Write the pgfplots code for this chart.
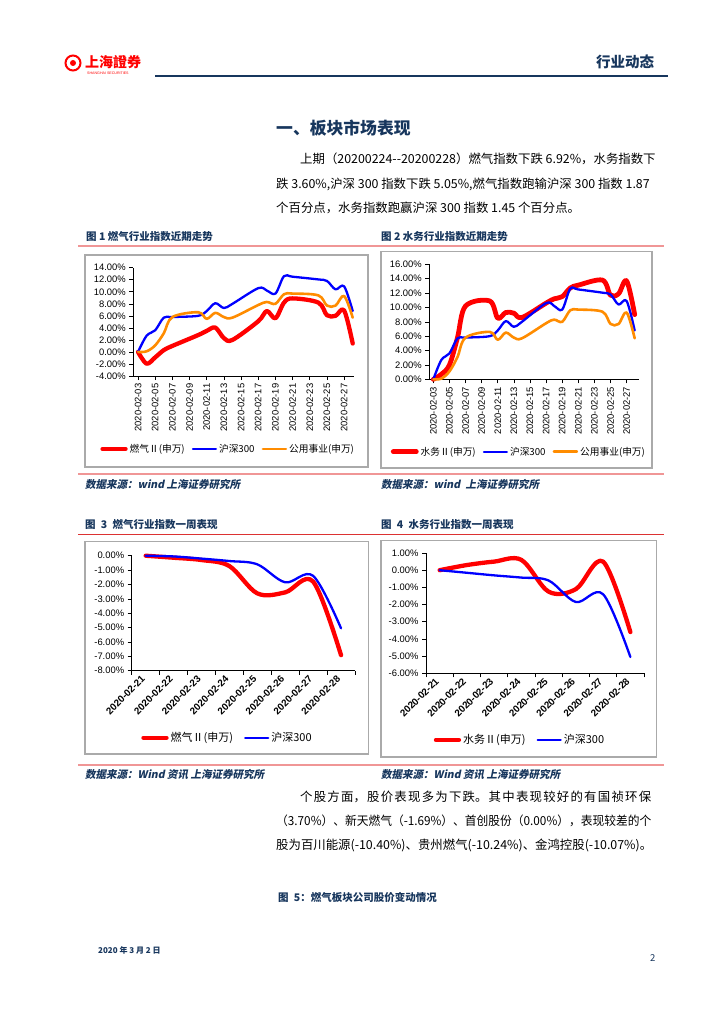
\documentclass[border=0pt]{standalone}
\usepackage{graphicx}
\usepackage{fontspec}
\setmainfont{Noto Sans CJK SC}
\newfontfamily\arial{Liberation Sans}
\newfontfamily\tcfont{Noto Sans CJK TC}
\newfontfamily\cjksl[FakeSlant=0.2]{Noto Sans CJK SC}
\usepackage{pgfplots}
\pgfplotsset{compat=1.18}
\definecolor{navy}{RGB}{23,54,93}
\definecolor{cred}{RGB}{255,0,0}
\definecolor{cblue}{RGB}{0,0,255}
\definecolor{corange}{RGB}{255,140,0}
\definecolor{lred}{RGB}{240,150,150}
\definecolor{dred}{RGB}{220,50,50}
\definecolor{boxgray}{RGB}{170,170,170}
\newcommand\jline[3]{\node[anchor=west, inner sep=0pt] at (#1) {\parbox{#2}{\XeTeXlinebreaklocale "zh"\XeTeXlinebreakskip=0pt plus 6pt\relax\parfillskip=0pt\relax #3}};}
\pgfplotsset{
  base/.style={
    scale only axis, anchor=south west, clip=false,
    axis lines=left, axis line style={-, black, line width=0.6pt},
    tick align=outside, major tick length=4pt,
    tick style={black, line width=0.6pt},
    /pgf/number format/assume math mode=true,
    ticklabel style={font=\arial\fontsize{9.4}{10}\selectfont, black},
    yticklabel={\pgfmathprintnumber[fixed,fixed zerofill,precision=2]{\tick}\%},
    legend style={draw=none, fill=none, legend columns=-1, inner sep=0pt,
      font=\fontsize{9.7}{11}\selectfont,
      /tikz/every even column/.append style={column sep=5pt}},
    legend image code/.code={\draw[#1] (0pt,0pt) -- (23pt,0pt);},
  },
  daily/.style={
    xtick={3,5,...,27},
    xticklabels={2020-02-03,2020-02-05,2020-02-07,2020-02-09,2020-02-11,2020-02-13,2020-02-15,2020-02-17,2020-02-19,2020-02-21,2020-02-23,2020-02-25,2020-02-27},
    xticklabel style={rotate=90, anchor=east},
  },
  weekly/.style={
    xmin=-0.5, xmax=7.5, xtick={0,...,7},
    xticklabels={2020-02-21,2020-02-22,2020-02-23,2020-02-24,2020-02-25,2020-02-26,2020-02-27,2020-02-28},
    xticklabel style={rotate=45, anchor=east, font=\arial\bfseries\fontsize{9.8}{10}\selectfont},
    major x tick style={draw=none},
    minor xtick={-0.5,0.5,...,7.5}, minor tick length=4pt,
    minor x tick style={black, line width=0.6pt},
    legend style={font=\fontsize{11}{12}\selectfont, /tikz/every even column/.append style={column sep=9pt}},
  },
  redline/.style={cred, line width=4.3pt, smooth, tension=0.55, line cap=round, line join=round},
  blueline/.style={cblue, line width=2.3pt, smooth, tension=0.55, line cap=round, line join=round},
  orangeline/.style={corange, line width=2.6pt, smooth, tension=0.55, line cap=round, line join=round},
}
\begin{document}
\begin{tikzpicture}
\begin{scope}[x=1pt,y=-1pt]
\path[use as bounding box, fill=white] (0,0) rectangle (724,1024);
% header
\draw[cred, line width=2pt] (73,63) circle (7.5);
\fill[cred] (73,63) circle (3);
\node[anchor=west, text=cred, inner sep=0pt, font=\tcfont\bfseries\fontsize{14}{14}\selectfont] at (85,62.5) {上海證券};
\node[anchor=west, text=cred, inner sep=0pt, font=\arial\fontsize{3.6}{4}\selectfont] at (87,73.5) {SHANGHAI SECURITIES};
\node[anchor=west, text=navy, inner sep=0pt, font=\bfseries\fontsize{14.5}{15}\selectfont] at (596,61.5) {行业动态};
\draw[navy, line width=2pt] (155,76) -- (668,76);
% title and paragraph
\node[anchor=west, text=navy, inner sep=0pt, font=\bfseries\fontsize{16.8}{17}\selectfont] at (276,128) {一、板块市场表现};
\begin{scope}[every node/.style={font=\fontsize{12.4}{13}\selectfont}]
\node[anchor=west, inner sep=0pt] at (300,158.5) {上期（20200224-{}-20200228）燃气指数下跌 6.92\%，水务指数下};
\node[anchor=west, inner sep=0pt] at (276,184) {跌 3.60\%,沪深 300 指数下跌 5.05\%,燃气指数跑输沪深 300 指数 1.87};
\node[anchor=west, inner sep=0pt] at (276,208) {个百分点，水务指数跑赢沪深 300 指数 1.45 个百分点。};
\jline{300,797}{351pt}{个股方面，股价表现多为下跌。其中表现较好的有国祯环保}
\node[anchor=west, inner sep=0pt] at (276,821) {\scalebox{0.947}[1]{（3.70\%）、新天燃气（-1.69\%）、首创股份（0.00\%），表现较差的个}};
\node[anchor=west, inner sep=0pt] at (276,845) {股为百川能源(-10.40\%)、贵州燃气(-10.24\%)、金鸿控股(-10.07\%)。};
\end{scope}
% captions
\begin{scope}[every node/.style={anchor=west, inner sep=0pt, text=navy, font=\bfseries\fontsize{10.5}{11}\selectfont}]
\node at (86,236.5) {图 1 燃气行业指数近期走势};
\node at (381,236.5) {图 2 水务行业指数近期走势};
\node at (85,525) {图\enspace 3\enspace 燃气行业指数一周表现};
\node at (381,525) {图\enspace 4\enspace 水务行业指数一周表现};
\node at (278,897) {图\enspace 5：燃气板块公司股价变动情况};
\end{scope}
\begin{scope}[every node/.style={anchor=west, inner sep=0pt, text=navy, font=\cjksl\bfseries\fontsize{10.5}{11}\selectfont}]
\node at (85,484.5) {数据来源：wind 上海证券研究所};
\node at (381,484.5) {数据来源：wind\enspace 上海证券研究所};
\node at (85,775) {数据来源：Wind 资讯 上海证券研究所};
\node at (381,775) {数据来源：Wind 资讯 上海证券研究所};
\end{scope}
% rules
\draw[lred, line width=1.6pt] (78,245.7) -- (664,245.7);
\draw[lred, line width=1.6pt] (78,474) -- (664,474);
\draw[dred, line width=1pt] (78,534.3) -- (664,534.3);
\draw[lred, line width=1.6pt] (78,765) -- (664,765);
% chart boxes
\draw[boxgray, line width=1.2pt] (85,255) rectangle (368,467);
\draw[boxgray, line width=1.2pt] (381,251.7) rectangle (652,468);
\draw[boxgray, line width=1.2pt] (85,541.5) rectangle (368.3,754);
\draw[boxgray, line width=1.2pt] (381,540.7) rectangle (656.5,757);
% footer
\node[anchor=west, inner sep=0pt, text=navy, font=\bfseries\fontsize{8}{8}\selectfont] at (98,950.5) {2020 年 3 月 2 日};
\node[anchor=west, inner sep=0pt, text=navy, font=\fontsize{9.5}{10}\selectfont] at (650,958) {2};
% axis anchors
\coordinate (A1) at (133.3,376);
\coordinate (A2) at (429.3,379.3);
\coordinate (A3) at (131.7,670.7);
\coordinate (A4) at (426,673.3);
\end{scope}

% Chart 1
\begin{axis}[base, daily, at={(A1)}, width=220.7pt, height=108.3pt,
  xmin=2.45, xmax=28.15, ymin=-4, ymax=14, ytick={-4,-2,...,14},
  legend style={at={(0.43,-0.674)}, anchor=center}]
\addplot[redline] coordinates {(3,0) (4,-1.95) (5,-0.9) (6,0.3) (7,1.0) (10,2.8) (11,3.5) (12,4.05) (13,2.3) (14,2.0) (17,5.1) (18,6.8) (19,5.6) (20,8.2) (21,8.9) (24,8.2) (25,6.1) (26,6.0) (27,6.9) (28,1.4)};
\addlegendentry{燃气Ⅱ(申万)}
\addplot[blueline] coordinates {(3,0) (4,2.7) (5,3.6) (6,5.7) (7,5.8) (10,6.0) (11,6.8) (12,8.1) (13,7.3) (14,8.0) (17,10.6) (18,10.2) (19,9.7) (20,12.6) (21,12.5) (24,12.05) (25,11.8) (26,10.4) (27,10.9) (28,6.8)};
\addlegendentry{沪深300}
\addplot[orangeline] coordinates {(3,0) (4,0.1) (5,1.1) (6,3.1) (7,5.8) (10,6.6) (11,5.5) (12,6.5) (13,5.8) (14,5.7) (17,7.8) (18,8.3) (19,8.0) (20,9.6) (21,9.7) (24,9.4) (25,7.7) (26,7.7) (27,9.3) (28,5.7)};
\addlegendentry{公用事业(申万)}
\end{axis}

% Chart 2
\begin{axis}[base, daily, at={(A2)}, width=209.4pt, height=115pt,
  xmin=2.5, xmax=28.5, ymin=0, ymax=16, ytick={0,2,...,16},
  legend style={at={(0.428,-0.63)}, anchor=center}]
\addplot[redline, line width=4.8pt] coordinates {(3,0) (4,0.7) (5,2.0) (6,5.8) (7,10.2) (10,10.9) (11,8.5) (12,9.3) (13,9.2) (14,8.6) (17,10.6) (18,11.2) (19,11.5) (20,12.7) (21,13.1) (24,13.8) (25,11.7) (26,11.9) (27,13.7) (28,9.0)};
\addlegendentry{水务Ⅱ(申万)}
\addplot[blueline] coordinates {(3,0) (4,2.7) (5,3.6) (6,5.7) (7,5.8) (10,6.0) (11,6.8) (12,8.1) (13,7.3) (14,8.0) (17,10.6) (18,10.2) (19,9.7) (20,12.6) (21,12.5) (24,12.05) (25,11.8) (26,10.4) (27,10.9) (28,6.8)};
\addlegendentry{沪深300}
\addplot[orangeline] coordinates {(3,0) (4,0.1) (5,1.1) (6,3.1) (7,5.8) (10,6.6) (11,5.5) (12,6.5) (13,5.8) (14,5.7) (17,7.8) (18,8.3) (19,8.0) (20,9.6) (21,9.7) (24,9.4) (25,7.7) (26,7.7) (27,9.3) (28,5.7)};
\addlegendentry{公用事业(申万)}
\end{axis}

% Chart 3
\begin{axis}[base, weekly, at={(A3)}, width=223.3pt, height=115pt,
  ymin=-8, ymax=0, ytick={-8,-7,...,0},
  legend style={at={(0.429,-0.583)}, anchor=center}]
\addplot[redline] coordinates {(0,0) (1,-0.14) (2,-0.3) (3,-0.72) (4,-2.62) (5,-2.55) (6,-1.8) (7,-6.92)};
\addlegendentry{燃气Ⅱ(申万)}
\addplot[blueline] coordinates {(0,0) (1,-0.05) (2,-0.2) (3,-0.37) (4,-0.6) (5,-1.85) (6,-1.4) (7,-5.05)};
\addlegendentry{沪深300}
\end{axis}

% Chart 4
\begin{axis}[base, weekly, at={(A4)}, width=218pt, height=120.3pt,
  ymin=-6, ymax=1, ytick={-6,-5,...,1},
  legend style={at={(0.431,-0.554)}, anchor=center}]
\addplot[redline] coordinates {(0,0) (1,0.3) (2,0.5) (3,0.6) (4,-1.25) (5,-1.1) (6,0.5) (7,-3.6)};
\addlegendentry{水务Ⅱ(申万)}
\addplot[blueline] coordinates {(0,0) (1,-0.15) (2,-0.3) (3,-0.43) (4,-0.6) (5,-1.85) (6,-1.4) (7,-5.05)};
\addlegendentry{沪深300}
\end{axis}
\end{tikzpicture}
\end{document}
